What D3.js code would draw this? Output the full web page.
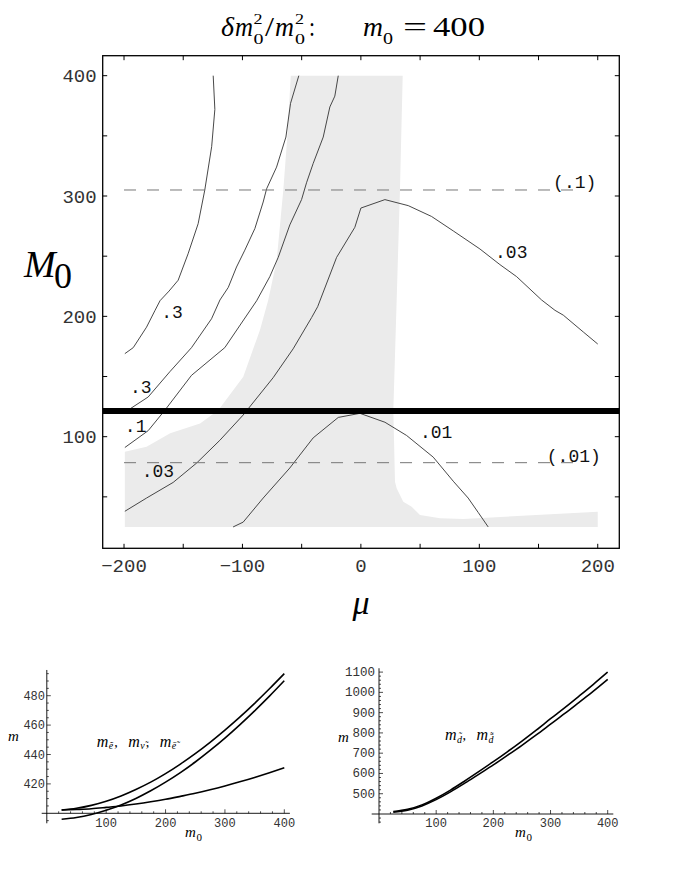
<!DOCTYPE html>
<html><head><meta charset="utf-8">
<script src="https://cdn.jsdelivr.net/npm/d3@7/dist/d3.min.js"></script>
<style>body{margin:0;background:#fff}</style>
</head><body>
<svg id="c" width="674" height="872" xmlns="http://www.w3.org/2000/svg"></svg>
<script>
// ---------------- DATA ----------------
// main panel: mu (x) vs M0 (y)
const muTickLabels = [-200, -100, 0, 100, 200];
const M0TickLabels = [100, 200, 300, 400];
const thickLineM0 = 121.4;
const dashedLevels = [305, 78.4];
const dashedLabels = ["(.1)", "(.01)"];
// light grey allowed region (mu, M0)
const grayRegion = [
  [-59.2,400],[35.3,400],[33,305],[30.2,213],[27.4,121.7],[28.8,62.6],[30.2,57.1],
  [35.8,46],[42.9,41.8],[49.9,34.9],[66.8,32.2],[86.5,31.6],[200,37.7],[200,25],
  [-199.3,25],[-199.3,87.5],[-181,91.7],[-161,102.8],[-135.8,111],[-120.4,122],
  [-99.3,149.8],[-85.2,188.7],[-78.2,213.6],[-71.1,246.5],[-65.5,305],[-62.1,349.5]
];
// contour lines (mu, M0)
const contourA = [[-124.7,400],[-123.3,372],[-126,341],[-131.8,305],[-137.4,277],[-145.9,252],
  [-154.3,230],[-162,221],[-169.6,213],[-173.8,205],[-181,191],[-192.2,174],[-199.3,169]];
const contourB = [[-52.4,400],[-59.4,377],[-63.3,349],[-71.2,324],[-79.6,306],[-82.5,295],
  [-89.5,273],[-98,255],[-105,241],[-112,224],[-119,213.6],[-126.1,198],[-143,174],
  [-161.3,154],[-179.6,133],[-195.1,123],[-200,120]];
const contourC = [[-19.1,400],[-22,383],[-26.2,374],[-31.8,349],[-40.3,327],[-45.9,311],
  [-50.1,297],[-60,276],[-69.8,249],[-76.9,233],[-88,213],[-114.9,174],[-143,151],
  [-165.5,122],[-179.6,105],[-199.3,91]];
const contourD = [[-199.3,38],[-181,49],[-158.5,62],[-138.8,78],[-119.1,97],[-99.4,118],
  [-74.1,149],[-57.2,173],[-41.6,199],[-36.5,208],[-20.5,249],[-5.1,274],[0,290],
  [20.3,297],[40,292],[59.7,283],[78,271],[100.5,256],[117.4,243],[131.5,233],
  [152.6,213.6],[163.9,205],[170.9,201],[187.8,187],[200,177]];
const contourE = [[-107.9,25],[-99.4,29],[-82.5,49],[-60,74],[-40.3,99],[-19.1,116],
  [-0.8,119.4],[20.3,112],[38.6,101],[61.1,83],[78,63],[90.6,49],[99.1,37],[107.5,25]];
const contourLabelText = [".3", ".3", ".1", ".03", ".01", ".03"];
const contourLabelMu   = [-168.5, -195, -199.3, -185.1, 49.9, 113.3];
const contourLabelM0   = [198.3, 136, 104, 66.8, 98.7, 248.3];

// lower-left panel: slepton masses vs m0
const m0Values = [25,50,75,100,125,150,175,200,225,250,275,300,325,350,375,400];
const mSelE   = [402.2,403.4,405.4,408.2,411.8,416.2,421.2,427.0,433.5,440.6,448.3,456.6,465.4,474.8,484.7,495.0];
const mSelNu  = [395.9,397.1,399.2,402.1,405.7,410.1,415.3,421.2,427.7,434.9,442.8,451.2,460.2,469.7,479.7,490.2];
const mSelER  = [402.2,402.6,403.1,404.0,405.0,406.3,407.8,409.5,411.5,413.6,416.0,418.6,421.4,424.4,427.6,431.0];
const leftYTicks = [420, 440, 460, 480];
const bottomXTicks = [100, 200, 300, 400];
// lower-right panel: down squark masses vs m0
const mSqD1 = [412,423,445,478,518,563,610,658,708,760,814,870,925,982,1040,1100];
const mSqD2 = [409,419,440,471,509,552,597,642,690,739,790,843,896,951,1006,1064];
const rightYTicks = [500,600,700,800,900,1000,1100];

// ---------------- DRAWING ----------------
const svg = d3.select("#c");
svg.append("rect").attr("width",674).attr("height",872).attr("fill","#fff");
const MONO = "'Liberation Mono', 'DejaVu Sans Mono', monospace";
const SERIF = "'Liberation Serif', 'DejaVu Serif', serif";

function txt(g, s, xx, yy, size, opts={}) {
  const t = g.append("text").attr("x",xx).attr("y",yy).attr("font-size",size)
    .attr("font-family", opts.family || SERIF).attr("fill", opts.fill || "#000").text(s);
  if (opts.italic) t.attr("font-style","italic");
  if (opts.anchor) t.attr("text-anchor",opts.anchor);
  if (opts.w) t.attr("textLength",opts.w).attr("lengthAdjust","spacingAndGlyphs");
  return t;
}

// ---- Title ----
const T = svg.append("g");
txt(T,"δ",221,36,28,{italic:true,w:13});
txt(T,"m",235,36,28,{italic:true,w:18});
txt(T,"2",253.5,24,14,{w:9});
txt(T,"0",253.5,44,15,{w:10});
txt(T,"/",265,36,28,{w:9});
txt(T,"m",275,36,28,{italic:true,w:19});
txt(T,"2",295,24,14,{w:9});
txt(T,"0",295,44,15,{w:10});
txt(T,":",309,36,28,{w:6});
txt(T,"m",363,36,28,{italic:true,w:20});
txt(T,"0",383,44,17,{w:10});
txt(T,"=",403,36,28,{w:24});
txt(T,"400",433,36,27,{w:52});

// ---- Main panel ----
const x = d3.scaleLinear().domain([-218,218.2]).range([102.7,619.3]);
const y = d3.scaleLinear().domain([7.25,416.6]).range([548.3,55.7]);
const main = svg.append("g");
const line = d3.line().x(d=>x(d[0])).y(d=>y(d[1]));

main.append("path").attr("d", line(grayRegion)+"Z").attr("fill","#ebebeb").attr("stroke","none");

[contourA, contourB, contourC, contourD, contourE].forEach(c=>{
  main.append("path").attr("d", line(c)).attr("fill","none")
    .attr("stroke","#333").attr("stroke-width",0.9).attr("stroke-linejoin","round");
});

dashedLevels.forEach((lv,i)=>{
  main.append("line").attr("x1",x(-200)).attr("x2",x(187)).attr("y1",y(lv)).attr("y2",y(lv))
    .attr("stroke","#777").attr("stroke-width",1).attr("stroke-dasharray","12,11");
});

// thick black line
main.append("line").attr("x1",x.range()[0]).attr("x2",x.range()[1])
  .attr("y1",y(thickLineM0)).attr("y2",y(thickLineM0)).attr("stroke","#000").attr("stroke-width",6);

// contour labels
contourLabelText.forEach((s,i)=>{
  txt(main,s,x(contourLabelMu[i]),y(contourLabelM0[i]),18,{family:MONO,fill:"#111"});
});
txt(main,dashedLabels[0],x(162.3),y(306.3),18,{family:MONO,fill:"#111"});
txt(main,dashedLabels[1],x(157),y(79.2),18,{family:MONO,fill:"#111"});

// frame
main.append("rect").attr("x",x.range()[0]).attr("y",y.range()[1])
  .attr("width",x.range()[1]-x.range()[0]).attr("height",y.range()[0]-y.range()[1])
  .attr("fill","none").attr("stroke","#000").attr("stroke-width",1.3);
const tl = 4.5;
d3.range(-200,201,50).forEach(v=>{
  main.append("line").attr("x1",x(v)).attr("x2",x(v)).attr("y1",y.range()[0]).attr("y2",y.range()[0]-tl).attr("stroke","#000");
  main.append("line").attr("x1",x(v)).attr("x2",x(v)).attr("y1",y.range()[1]).attr("y2",y.range()[1]+tl).attr("stroke","#000");
});
d3.range(50,401,50).forEach(v=>{
  main.append("line").attr("y1",y(v)).attr("y2",y(v)).attr("x1",x.range()[0]).attr("x2",x.range()[0]+tl).attr("stroke","#000");
  main.append("line").attr("y1",y(v)).attr("y2",y(v)).attr("x1",x.range()[1]).attr("x2",x.range()[1]-tl).attr("stroke","#000");
});
muTickLabels.forEach(v=>{
  txt(main,(v<0?"\u2212":"")+Math.abs(v),x(v),571.5,19,{family:MONO,anchor:"middle",fill:"#333"});
});
M0TickLabels.forEach(v=>{
  txt(main,String(v),96.7,y(v)+6.5,19,{family:MONO,anchor:"end",fill:"#333"});
});
// axis titles
txt(main,"M",24,277,38,{italic:true});
txt(main,"0",54,288,36);
txt(main,"μ",361,614,34,{italic:true,anchor:"middle"});

// ---- Lower panels ----
function smallPanel(opts){
  const g = svg.append("g");
  const xs = d3.scaleLinear().domain([0,400]).range(opts.xr);
  const ys = d3.scaleLinear().domain(opts.yd).range(opts.yr);
  g.append("line").attr("x1",xs(opts.xext[0])).attr("x2",xs(opts.xext[1]))
    .attr("y1",ys(400)).attr("y2",ys(400)).attr("stroke","#000").attr("stroke-width",0.9);
  g.append("line").attr("x1",xs(0)).attr("x2",xs(0))
    .attr("y1",ys(opts.yext[0])).attr("y2",ys(opts.yext[1])).attr("stroke","#000").attr("stroke-width",0.9);
  d3.range(20,401,20).forEach(v=>{
    const major = v%100===0;
    g.append("line").attr("x1",xs(v)).attr("x2",xs(v)).attr("y1",ys(400)).attr("y2",ys(400)-(major?4:2))
      .attr("stroke","#000").attr("stroke-width",0.7);
  });
  opts.yminor.forEach(v=>{
    const major = opts.yticks.includes(v);
    g.append("line").attr("x1",xs(0)).attr("x2",xs(0)+(major?4:2)).attr("y1",ys(v)).attr("y2",ys(v))
      .attr("stroke","#000").attr("stroke-width",0.7);
  });
  bottomXTicks.forEach(v=>{
    txt(g,String(v),xs(v),826.7,12,{family:MONO,anchor:"middle",fill:"#333"});
  });
  opts.yticks.forEach(v=>{
    txt(g,String(v),opts.ylabx,ys(v)+4,opts.yfs,{family:MONO,anchor:"end",fill:"#333"});
  });
  const ln = d3.line().x((d,i)=>xs(m0Values[i])).y(d=>ys(d)).curve(d3.curveMonotoneX);
  opts.series.forEach(s=>{
    g.append("path").attr("d",ln(s)).attr("fill","none").attr("stroke","#000").attr("stroke-width",1.6);
  });
  return {g, xs, ys};
}

const L = smallPanel({xr:[46.8,284.3], yd:[400,480], yr:[813.3,695.7], xext:[-8.6,409.4], yext:[393.2,497.5],
  yticks:leftYTicks, yminor:d3.range(395,496,5).filter(v=>v!==400), ylabx:45, yfs:12,
  series:[mSelE,mSelNu,mSelER]});
const R = smallPanel({xr:[379,607.7], yd:[400,1100], yr:[814,672.1], xext:[-12.8,409.8], yext:[354,1119],
  yticks:rightYTicks, yminor:d3.range(360,1111,20).filter(v=>v!==400), ylabx:375, yfs:12.5,
  series:[mSqD1,mSqD2]});

// axis labels of lower panels
txt(L.g,"m",8,741,15,{italic:true});
txt(L.g,"m",185,837,15,{italic:true});
txt(L.g,"0",196.5,841,11);
txt(R.g,"m",338,742,15,{italic:true});
txt(R.g,"m",515,837,15,{italic:true});
txt(R.g,"0",526.5,841,11);

// annotations
function massLabel(g, xx, yy, subs){
  let cx = xx;
  subs.forEach((s,i)=>{
    txt(g,"m",cx,yy,16,{italic:true});
    cx += 12;
    txt(g,s,cx,yy+2.5,10,{italic:true});
    cx += 5.5;
    if (i<subs.length-1){ txt(g,",",cx,yy,14); cx += 14; }
  });
}
massLabel(L.g, 96.7, 746.7, ["e\u0303","\u03BD\u0303","e\u0304\u0303"]);
massLabel(R.g, 445, 740, ["d\u0303","d\u0304\u0303"]);
</script>
</body></html>
